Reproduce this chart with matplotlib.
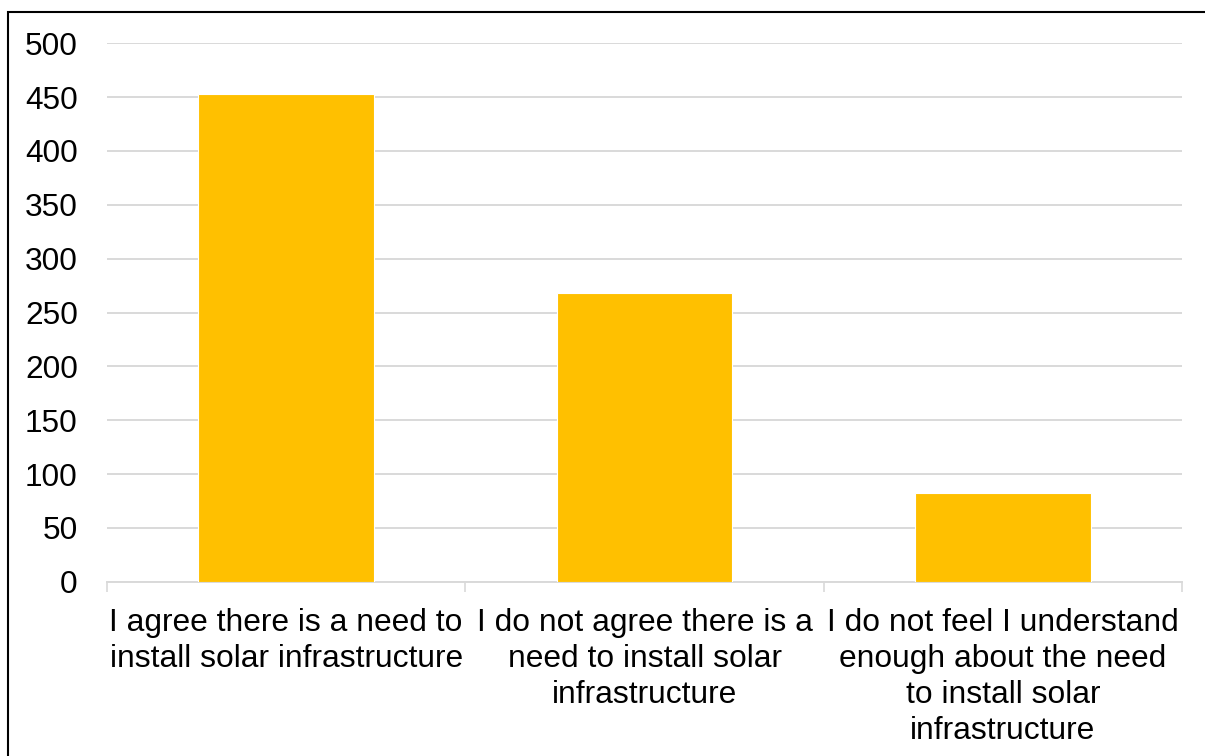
import numpy as np
import matplotlib.pyplot as plt
from matplotlib.patches import Rectangle

plt.rcParams['font.family'] = ['Liberation Sans', 'DejaVu Sans']

# Survey responses
categories = [
    'I agree there is a need to\ninstall solar infrastructure',
    'I do not agree there is a\nneed to install solar\ninfrastructure',
    'I do not feel I understand\nenough about the need\nto install solar\ninfrastructure',
]
counts = [453, 268, 82]
yticks = [0, 50, 100, 150, 200, 250, 300, 350, 400, 450, 500]

bar_color = '#FFC000'
grid_color = '#D9D9D9'

fig = plt.figure(figsize=(12.05, 7.56), dpi=100)
ax = fig.add_axes([107 / 1205, 1 - 581.7 / 756, 1075 / 1205, 538.4 / 756])

x = np.arange(len(categories))
ax.bar(x, counts, width=0.49, color=bar_color, edgecolor='white',
       linewidth=0.8, zorder=3)

ax.set_xlim(-0.5, len(categories) - 0.5)
ax.set_ylim(0, 500)
ax.set_yticks(yticks)
ax.tick_params(axis='y', length=0, pad=21, labelsize=22.8)

ax.set_xticks(x)
ax.set_xticklabels(categories, fontsize=22.9, linespacing=1.26)
ax.tick_params(axis='x', which='major', length=0, pad=19)
ax.set_xticks(np.arange(-0.5, len(categories), 1), minor=True)
ax.tick_params(axis='x', which='minor', length=7, width=1.2, color=grid_color)

ax.grid(axis='y', color=grid_color, linewidth=1.4, zorder=0)
ax.set_axisbelow(True)

# Only the bottom axis line stays, in the same grey as the gridlines
for edge in ['left', 'right', 'top']:
    ax.spines[edge].set_visible(False)
ax.spines['bottom'].set_color(grid_color)
ax.spines['bottom'].set_linewidth(1.4)

# Frame around the figure
frame = Rectangle((8 / 1205, -0.1), 1.2, 1.1 - 12 / 756,
                  transform=fig.transFigure, fill=False,
                  edgecolor='black', linewidth=1.5, clip_on=False)
fig.add_artist(frame)

fig.savefig('out.png', dpi=100)
